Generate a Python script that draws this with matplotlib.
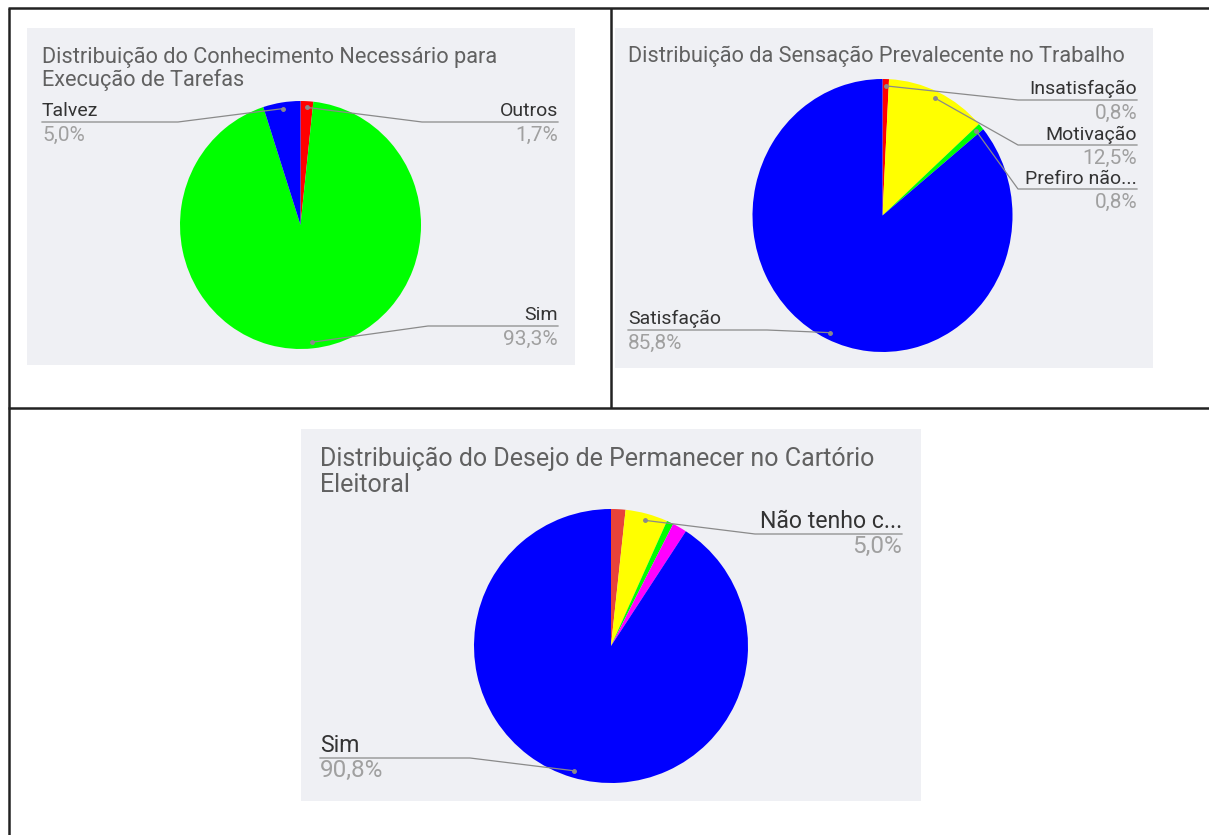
import numpy as np
import matplotlib
matplotlib.use('Agg')
from matplotlib import pyplot as plt
from matplotlib.patches import Rectangle

plt.rcParams['font.family'] = ['Roboto', 'DejaVu Sans']

W, H = 1209, 835

# ---- dados ----
titulo_1 = 'Distribuição do Conhecimento Necessário para\nExecução de Tarefas'
rotulos_1 = ['Outros', 'Sim', 'Talvez']
valores_1 = [1.7, 93.3, 5.0]
cores_1 = ['#ff0000', '#00ff00', '#0000ff']

titulo_2 = 'Distribuição da Sensação Prevalecente no Trabalho'
rotulos_2 = ['Insatisfação', 'Motivação', 'Prefiro não...', 'Satisfação']
valores_2 = [0.8, 12.5, 0.8, 85.8]
cores_2 = ['#ff0000', '#ffff00', '#00ff00', '#0000ff']

titulo_3 = 'Distribuição do Desejo de Permanecer no Cartório\nEleitoral'
rotulos_3 = ['', 'Não tenho c...', '', '', 'Sim']   # fatias pequenas sem rotulo
valores_3 = [1.7, 5.0, 0.8, 1.7, 90.8]
cores_3 = ['#e8433a', '#ffff00', '#00ff00', '#ff00ff', '#0000ff']

# ---- layout em pixels (y para baixo) ----
# fundo (x0, y0, x1, y1), titulo (x, baseline, entrelinha), centro, raios (rx, ry)
# chamadas: rotulo -> (lado, y da linha, x do cotovelo)
paineis = [
    dict(titulo=titulo_1, rotulos=rotulos_1, valores=valores_1, cores=cores_1,
         fundo=(27, 28, 575, 365), tx=42, ty=63, dy=23, txd=558,
         fs=(15.7, 14, 15), deslocs=(-5.5, 18.5),
         centro=(300.5, 225), raio=(120.5, 124),
         chamadas={'Outros': ('r', 122, 422), 'Sim': ('r', 326, 428),
                   'Talvez': ('l', 122, 178)}),
    dict(titulo=titulo_2, rotulos=rotulos_2, valores=valores_2, cores=cores_2,
         fundo=(615, 28, 1153, 368), tx=628, ty=62, dy=23, txd=1137,
         fs=(15.7, 14, 15), deslocs=(-5.5, 18.5),
         centro=(882.5, 215.5), raio=(130, 136.5),
         chamadas={'Insatisfação': ('r', 100, 1018), 'Motivação': ('r', 145, 1018),
                   'Prefiro não...': ('r', 189, 1018), 'Satisfação': ('l', 330, 767)}),
    dict(titulo=titulo_3, rotulos=rotulos_3, valores=valores_3, cores=cores_3,
         fundo=(301, 429, 921, 801), tx=320, ty=466, dy=25.5, txd=902,
         fs=(18, 16.6, 17.5), deslocs=(-6.5, 19),
         centro=(611, 646), raio=(137, 137),
         chamadas={'Não tenho c...': ('r', 534, 755), 'Sim': ('l', 758, 470)}),
]

fig = plt.figure(figsize=(W / 100, H / 100), dpi=100)
fig.patch.set_facecolor('white')

# eixo de fundo (paineis e tabela)
ax0 = fig.add_axes([0, 0, 1, 1])
ax0.set_xlim(0, W)
ax0.set_ylim(H, 0)
ax0.axis('off')

for p in paineis:
    x0, y0, x1, y1 = p['fundo']
    ax0.add_patch(Rectangle((x0, y0), x1 - x0, y1 - y0, facecolor='#eff0f4',
                            edgecolor='none'))

# bordas da tabela
cor_borda = '#222222'
ax0.plot([8, W], [8, 8], color=cor_borda, lw=1.8, solid_capstyle='butt')
ax0.plot([8.5, 8.5], [8, H], color=cor_borda, lw=1.8, solid_capstyle='butt')
ax0.plot([611, 611], [8, 408], color=cor_borda, lw=1.8, solid_capstyle='butt')
ax0.plot([8, W], [408, 408], color=cor_borda, lw=1.8, solid_capstyle='butt')

# pizzas, cada uma no seu eixo
fatias = []
for p in paineis:
    cx, cy = p['centro']
    rx, ry = p['raio']
    axp = fig.add_axes([(cx - rx) / W, 1 - (cy + ry) / H, 2 * rx / W, 2 * ry / H])
    wedges, _ = axp.pie(p['valores'], colors=p['cores'], startangle=90,
                        counterclock=False, radius=1, frame=True,
                        wedgeprops=dict(linewidth=0))
    axp.set_xlim(-1, 1)
    axp.set_ylim(-1, 1)
    axp.set_aspect('auto')
    axp.axis('off')
    fatias.append(wedges)

# eixo da frente: titulos, rotulos, linhas de chamada
ax1 = fig.add_axes([0, 0, 1, 1])
ax1.set_xlim(0, W)
ax1.set_ylim(H, 0)
ax1.patch.set_alpha(0)
ax1.axis('off')

for p, wedges in zip(paineis, fatias):
    fs_tit, fs_rot, fs_pct = p['fs']
    d_rot, d_pct = p['deslocs']
    for i, linha in enumerate(p['titulo'].split('\n')):
        ax1.text(p['tx'], p['ty'] + i * p['dy'], linha, fontsize=fs_tit,
                 color='#616161', ha='left', va='baseline')
    cx, cy = p['centro']
    rx, ry = p['raio']
    for rot, val, w in zip(p['rotulos'], p['valores'], wedges):
        if not rot:
            continue
        lado, uy, ex = p['chamadas'][rot]
        meio = np.deg2rad((w.theta1 + w.theta2) / 2)
        px = cx + rx * 0.95 * np.cos(meio)
        py = cy - ry * 0.95 * np.sin(meio)
        pct = f'{val:.1f}%'.replace('.', ',')
        if lado == 'r':
            xt, ha = p['txd'], 'right'
        else:
            xt, ha = p['tx'], 'left'
        ax1.plot([px, ex, xt], [py, uy, uy], color='#8a8a8a', lw=0.9)
        ax1.plot([px], [py], 'o', color='#8a8a8a', markersize=2.5)
        ax1.text(xt, uy + d_rot, rot, fontsize=fs_rot, color='#333333', ha=ha,
                 va='baseline')
        ax1.text(xt, uy + d_pct, pct, fontsize=fs_pct, color='#a0a0a0', ha=ha,
                 va='baseline')

fig.savefig('out.png', dpi=100)
